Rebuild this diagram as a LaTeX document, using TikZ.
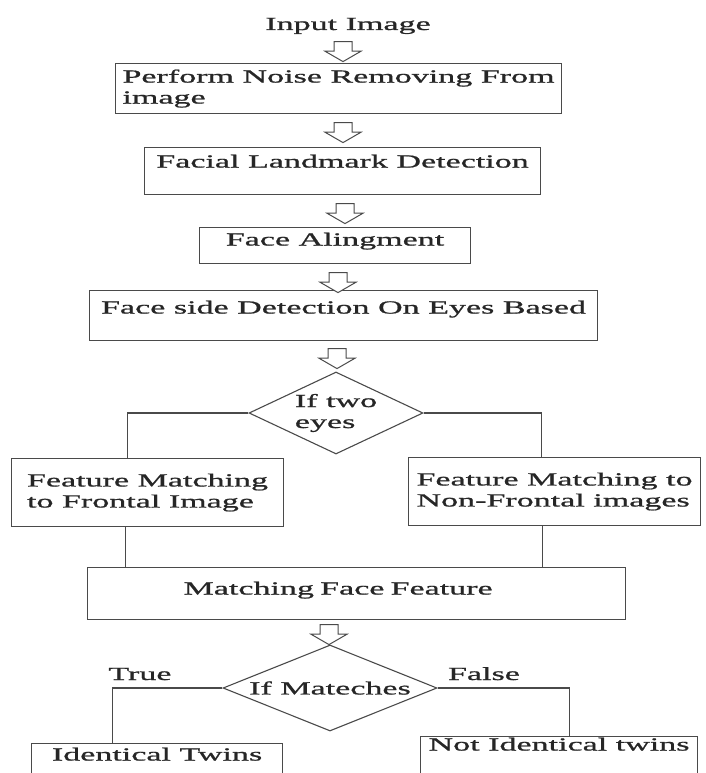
\documentclass[tikz,border=0pt]{standalone}
\usepackage{fontspec}
\setmainfont{Liberation Serif}[FakeStretch=1.84,FakeBold=1]
\usetikzlibrary{shapes.geometric,shapes.arrows}
\definecolor{linegray}{HTML}{4A4A4A}
\definecolor{textgray}{HTML}{262626}
\tikzset{box/.style={draw=linegray,line width=1.1pt,inner xsep=6pt,inner ysep=0pt,anchor=north west,text=textgray},decision/.style={diamond,draw=linegray,line width=1.1pt,inner sep=0pt,text=textgray},hollow/.style={single arrow,draw=linegray,fill=white,line width=1pt,rotate=-90,inner xsep=0pt,inner ysep=8.5pt,minimum height=20pt,minimum width=35pt,single arrow head extend=9pt,single arrow tip angle=120},link/.style={draw=linegray,line width=1.1pt},tag/.style={anchor=base,text=textgray}}

\begin{document}
\begin{tikzpicture}[x=1pt,y=-1pt,font=\fontsize{18.5}{21}\selectfont]
\clip (0,0) rectangle (705,773);
% Main column of processing steps.
\node[tag] (inp) at (348,30) {Input Image};
\node[box,align=left,minimum width=446pt,minimum height=50pt] (denoise) at (115,63) {Perform Noise Removing From\\image};
\node[box,minimum width=396pt,text height=20pt,text depth=27pt] (landmark) at (144,147) {Facial Landmark Detection};
\node[box,minimum width=271pt,text height=18pt,text depth=18pt] (alignface) at (199,227) {Face Alingment};
\node[box,minimum width=508pt,text height=23pt,text depth=27pt] (side) at (89,290) {Face side Detection On Eyes Based};
\node[decision,aspect=2,align=left,minimum width=174pt,minimum height=82pt] (twoeyes) at (336,413) {If two\\eyes};
% Frontal and non-frontal branches.
\node[box,align=left,minimum width=272pt,minimum height=68pt] (frontal) at (11,458) {Feature Matching\\to Frontal Image};
\node[box,align=left,minimum width=292pt,minimum height=68pt] (nonfrontal) at (408,457) {Feature Matching to\\Non-Frontal images};
\node[box,align=left,text width=526pt,text height=27pt,text depth=25pt] (matchfeat) at (87,567) {\hspace*{90pt}Matching Face Feature};
\node[decision,aspect=2.5,minimum width=214pt,minimum height=86pt] (ifmatch) at (330,688) {If Mateches};
% Outcomes.
\node[box,minimum width=251pt,text height=17pt,text depth=40pt] (twins) at (31,743) {Identical Twins};
\node[box,minimum width=277pt,text height=14pt,text depth=45pt] (nottwins) at (420,736) {Not Identical twins};
\node[tag] (truelab) at (140,680) {True};
\node[tag] (falselab) at (484,680) {False};
% Hollow block arrows between the steps.
\foreach \n/\x/\y in {1/343/49,2/343/130,3/345/211,4/338/280,5/337/356,6/329/632}
  \node[hollow] (ar\n) at (\x,\y) {};
% Branch lines.
\draw[link] (twoeyes.west) -| ([xshift=-20pt]frontal.north);
\draw[link] (twoeyes.east) -| ([xshift=-13pt]nonfrontal.north);
\draw[link] ([xshift=-22pt]frontal.south) -- ([xshift=-22pt]frontal.south |- matchfeat.north);
\draw[link] ([xshift=-12pt]nonfrontal.south) -- ([xshift=-12pt]nonfrontal.south |- matchfeat.north);
\draw[link] (ifmatch.west) -| ([xshift=-44.5pt]twins.north);
\draw[link] (ifmatch.east) -| ([xshift=10.5pt]nottwins.north);
\end{tikzpicture}
\end{document}
